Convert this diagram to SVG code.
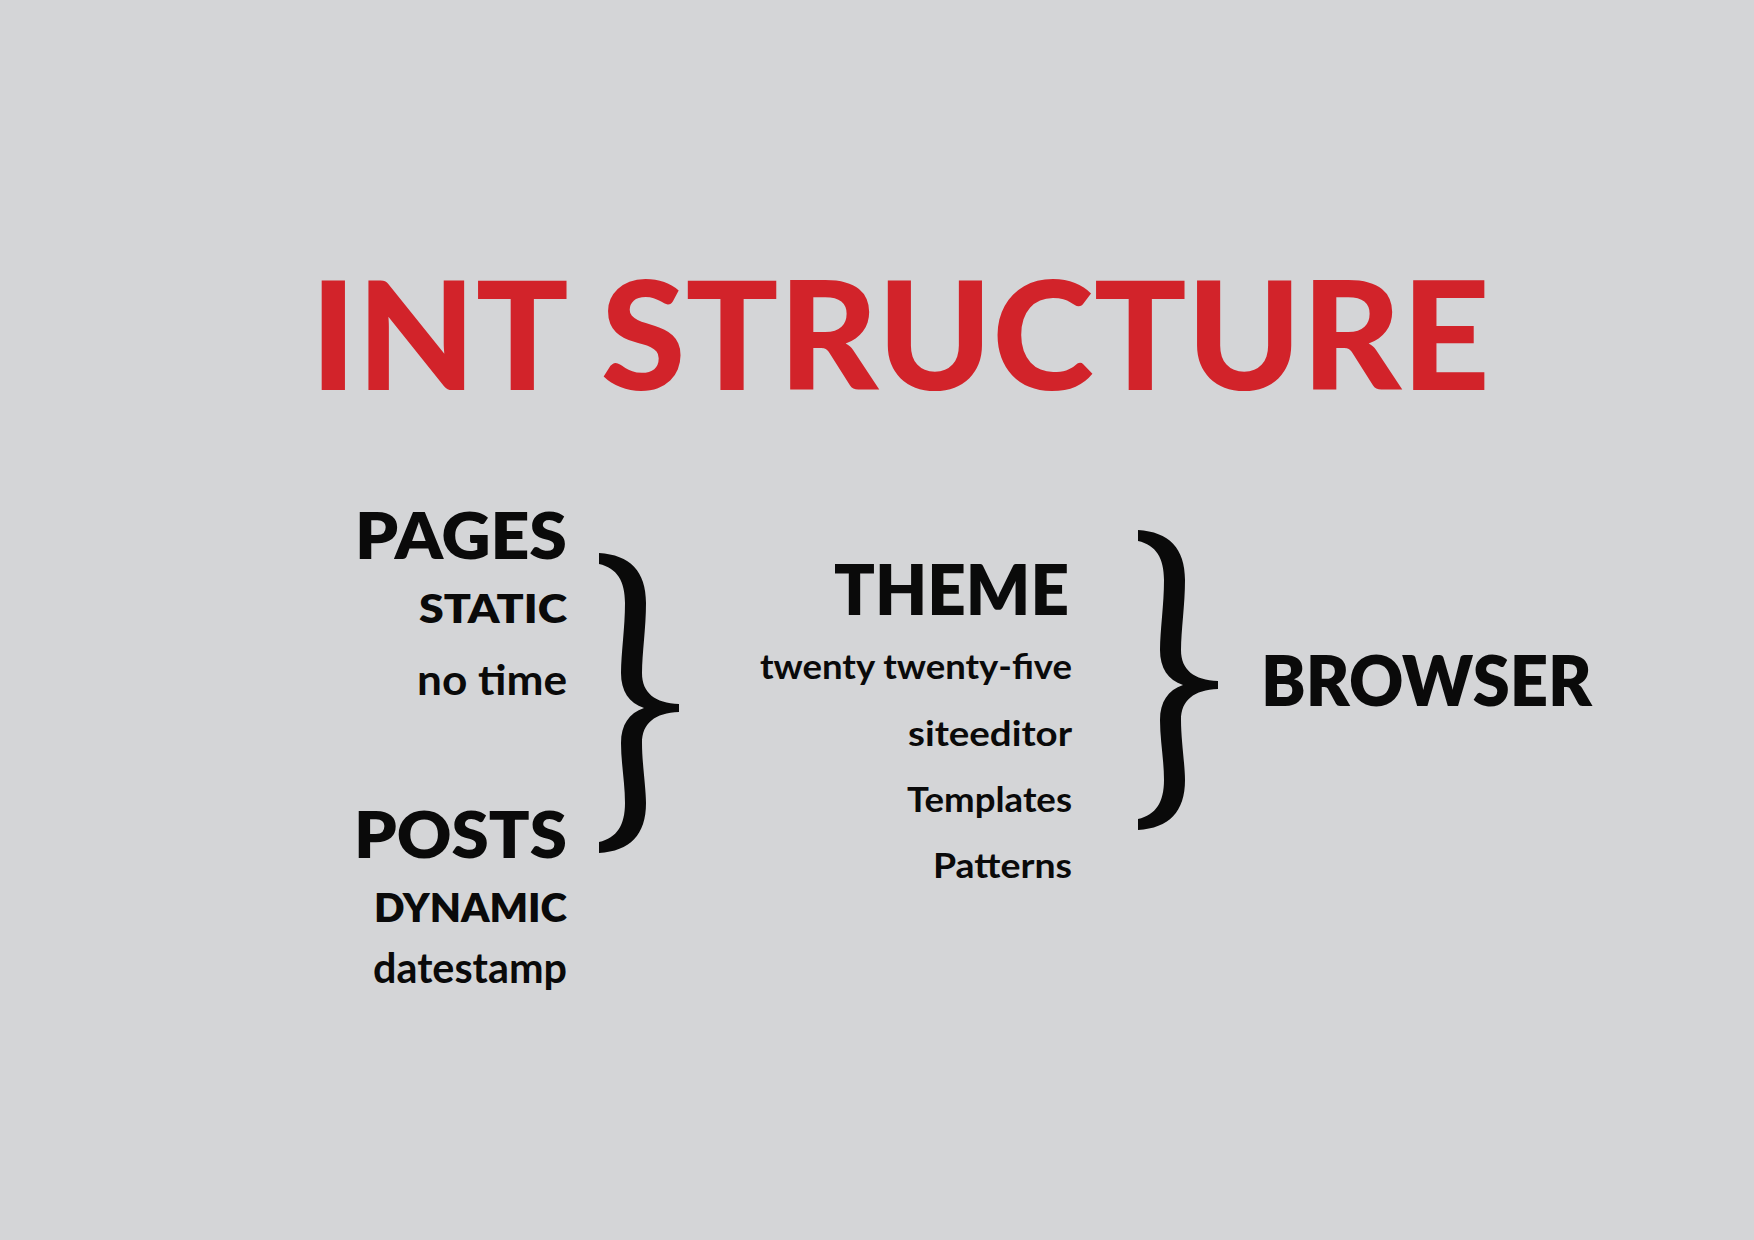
<svg xmlns="http://www.w3.org/2000/svg" xmlns:xlink="http://www.w3.org/1999/xlink" width="1754" height="1240" viewBox="0 0 1754 1240">
<style>
.t{font-family:Lato,"Liberation Sans","DejaVu Sans",sans-serif;font-weight:800;fill:#0a0a0a;text-anchor:end}
.lc{font-weight:700}
.title{font-family:Lato,"Liberation Sans","DejaVu Sans",sans-serif;font-weight:900;fill:#d2232a}
.h{font-size:65px}
.s{font-size:39px}
.l{font-size:42px}
.m{font-size:35px}
.brace{fill:#0a0a0a}
</style>
<defs>
<path id="brace" d="M0,0 C31,2 47,18 47,50 C47,75 43,100 43,120 C43,140 56,150 80,151 L80,159 C56,160 43,170 43,190 C43,210 47,235 47,250 C47,282 31,298 0,300 L0,289 C18,285 26,272 26,250 C26,230 22,210 22,190 C22,172 30,160 45,155 C30,150 22,138 22,120 C22,100 26,75 26,50 C26,28 18,15 0,11 Z"/>
</defs>
<rect width="1754" height="1240" fill="#d4d5d7"/>
<g id="title"><text class="title" x="310" y="390" font-size="150" textLength="1180" lengthAdjust="spacingAndGlyphs">INT STRUCTURE</text></g>
<g id="pages">
<text class="t h" x="567" y="559" textLength="212" lengthAdjust="spacingAndGlyphs">PAGES</text>
<text class="t s" x="567" y="623" textLength="148" lengthAdjust="spacingAndGlyphs">STATIC</text>
<text class="t l lc" x="567" y="695" textLength="150" lengthAdjust="spacingAndGlyphs">no time</text>
</g>
<g id="posts">
<text class="t h" x="567" y="858" textLength="213" lengthAdjust="spacingAndGlyphs">POSTS</text>
<text class="t s" x="567" y="922" textLength="193" lengthAdjust="spacingAndGlyphs">DYNAMIC</text>
<text class="t l lc" x="567" y="983" textLength="194" lengthAdjust="spacingAndGlyphs">datestamp</text>
</g>
<g id="theme">
<text class="t" x="1069" y="615" font-size="70" textLength="235" lengthAdjust="spacingAndGlyphs">THEME</text>
<text class="t m lc" x="1072" y="679" textLength="312" lengthAdjust="spacingAndGlyphs">twenty twenty-five</text>
<text class="t m lc" x="1072" y="746" textLength="164" lengthAdjust="spacingAndGlyphs">siteeditor</text>
<text class="t m lc" x="1072" y="812" textLength="165" lengthAdjust="spacingAndGlyphs">Templates</text>
<text class="t m lc" x="1072" y="878" textLength="139" lengthAdjust="spacingAndGlyphs">Patterns</text>
</g>
<g id="browser">
<text class="t" x="1592" y="706" font-size="70" textLength="331" lengthAdjust="spacingAndGlyphs">BROWSER</text>
</g>
<g id="connectors">
<use xlink:href="#brace" class="brace" transform="translate(599,553)"/>
<use xlink:href="#brace" class="brace" transform="translate(1138,530)"/>
</g>
</svg>
